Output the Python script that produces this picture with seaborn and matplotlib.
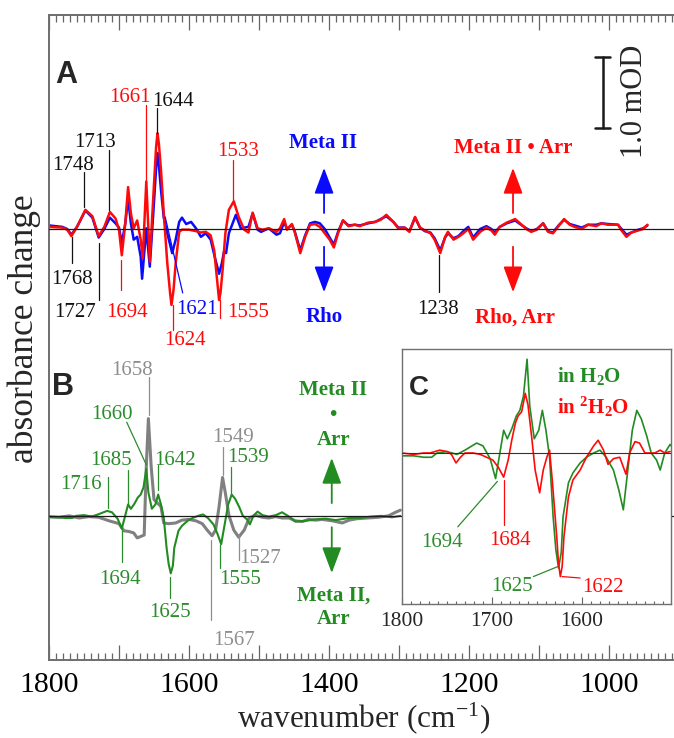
import numpy as np
import seaborn as sns
import matplotlib.pyplot as plt
from matplotlib.ticker import MultipleLocator, FuncFormatter

# ---- panel A: Meta II (blue) and Meta II-arrestin (red) difference spectra, mOD
wn_a_blue = [1800, 1781, 1774, 1768, 1760, 1748, 1738, 1729, 1721, 1713,
             1705, 1700, 1696, 1691, 1687, 1683, 1679, 1674, 1669, 1667,
             1661, 1656, 1651, 1647, 1645, 1643, 1640, 1636, 1631, 1624, 1619, 1614,
             1610, 1604, 1597, 1590, 1583, 1576, 1569, 1562, 1557, 1553,
             1550, 1547, 1543, 1533, 1526, 1521, 1515, 1509, 1502, 1497,
             1486,
             1475, 1470, 1464, 1460, 1453, 1449, 1441, 1434, 1427, 1420,
             1413, 1406, 1399, 1393, 1387, 1380, 1372, 1363, 1356, 1344,
             1334, 1326, 1318, 1308, 1301, 1292, 1285, 1277, 1270, 1263,
             1255, 1249, 1241, 1234, 1230, 1222, 1215, 1208, 1201, 1194,
             1184, 1175, 1168, 1163, 1156, 1146, 1134, 1127, 1118, 1111,
             1103, 1094, 1087, 1080, 1072, 1064, 1056, 1049, 1039, 1030,
             1018, 1011, 1001, 987, 982, 975, 968, 958, 951, 945]
od_a_blue = [0.05, 0.03, 0.00, -0.08, 0.03, 0.26, 0.16, -0.12, 0.00, 0.16,
             0.08, 0.02, -0.20, 0.08, 0.43, 0.08, -0.15, -0.11, -0.39, -0.70,
             0.01, -0.53, 0.22, 0.85, 1.07, 0.90, 0.55, 0.16, -0.06, -0.34, -0.15, 0.10,
             0.16, 0.07, 0.10, 0.01, -0.11, -0.06, -0.15, -0.44, -0.63, -0.48,
             -0.32, -0.34, -0.06, 0.20, 0.01, 0.02, 0.03, 0.22, -0.01, -0.04,
             0.01,
             -0.08, -0.06, 0.10, 0.00, 0.06, -0.03, -0.30, -0.09, 0.08, 0.10,
             0.08, 0.00, -0.12, -0.22, -0.04, 0.12, 0.05, 0.06, 0.05, 0.08,
             0.10, 0.14, 0.18, 0.10, 0.02, 0.02, -0.03, 0.16, 0.02, -0.03,
             -0.05, -0.13, -0.30, -0.12, -0.06, -0.13, -0.10, -0.03, 0.03, -0.12,
             0.00, 0.04, 0.00, -0.05, 0.03, 0.08, 0.12, 0.07, 0.01, -0.03,
             0.00, 0.08, -0.03, -0.05, 0.05, 0.13, 0.07, 0.05, 0.02, 0.06,
             0.06, 0.08, 0.07, 0.06, 0.00, -0.08, -0.05, -0.01, 0.01, 0.05]

wn_a_red = [1800, 1781, 1774, 1768, 1760, 1748, 1738, 1729, 1721, 1713,
            1705, 1700, 1696, 1691, 1687, 1683, 1679, 1674, 1669, 1666,
            1661, 1656, 1651, 1647, 1645, 1643, 1640, 1636, 1631, 1627, 1625, 1622,
            1619, 1614, 1610, 1600, 1590, 1583, 1576, 1569, 1564, 1559, 1557, 1555,
            1552, 1548, 1543, 1536, 1529, 1521, 1515, 1509, 1502, 1495, 1486,
            1475, 1470, 1464, 1460, 1453, 1449, 1441, 1434, 1427, 1420,
            1413, 1406, 1399, 1393, 1387, 1380, 1372, 1363, 1356, 1344,
            1334, 1326, 1318, 1308, 1301, 1292, 1285, 1277, 1270, 1263,
            1255, 1249, 1241, 1234, 1230, 1222, 1215, 1208, 1201, 1194,
            1184, 1175, 1168, 1163, 1156, 1146, 1134, 1127, 1118, 1111,
            1103, 1094, 1087, 1080, 1072, 1064, 1056, 1049, 1039, 1030,
            1018, 1011, 1001, 987, 982, 975, 968, 958, 951, 945]
od_a_red = [0.03, 0.02, -0.01, -0.10, 0.03, 0.27, 0.18, -0.10, 0.03, 0.24,
            0.15, -0.01, -0.37, 0.08, 0.59, 0.22, 0.01, 0.12, -0.15, -0.41,
            0.67, -0.46, 0.45, 1.15, 1.35, 1.20, 0.83, 0.22, -0.48, -0.90, -1.07, -0.85,
            -0.48, -0.04, -0.01, -0.01, -0.03, -0.05, -0.04, -0.09, -0.30, -0.80, -1.00, -0.90,
            -0.58, -0.06, 0.27, 0.39, 0.17, -0.01, -0.05, 0.23, 0.01, -0.01, 0.01,
            -0.04, 0.01, 0.14, -0.01, 0.07, -0.04, -0.34, -0.11, 0.06, 0.07,
            0.03, -0.06, -0.15, -0.26, -0.06, 0.12, 0.04, 0.06, 0.04, 0.09,
            0.10, 0.13, 0.20, 0.10, 0.01, 0.02, -0.04, 0.17, 0.02, -0.02,
            -0.06, -0.15, -0.34, -0.11, -0.04, -0.15, -0.11, -0.06, 0.00, -0.15,
            -0.04, 0.02, -0.02, -0.08, 0.03, 0.09, 0.14, 0.08, 0.00, -0.04,
            -0.01, 0.08, -0.04, -0.06, 0.04, 0.14, 0.06, 0.03, 0.00, 0.06,
            0.04, 0.08, 0.06, 0.06, -0.02, -0.11, -0.05, -0.02, 0.00, 0.06]

# ---- panel B: gray and green (H2O) spectra
wn_b_gray = [1800, 1786, 1771, 1757, 1743, 1729, 1714, 1700, 1693, 1686,
             1679, 1674, 1669, 1664, 1661, 1658, 1654, 1650, 1645, 1640,
             1636, 1629, 1619, 1610, 1600, 1590, 1581, 1574, 1567, 1562,
             1557, 1552, 1548, 1543, 1536, 1529, 1521, 1514, 1505, 1495,
             1486, 1476, 1467, 1457, 1448, 1438, 1429, 1419, 1410, 1395,
             1381, 1371, 1360, 1345, 1330, 1315, 1305, 1298]
od_b_gray = [-0.01, -0.02, 0.00, -0.03, -0.01, -0.02, -0.07, -0.11, -0.21, -0.22,
             -0.24, -0.31, -0.29, -0.27, 0.69, 1.37, 0.69, 0.23, 0.18, 0.13,
             -0.10, -0.11, -0.10, -0.06, -0.05, -0.07, -0.11, -0.20, -0.28, -0.20,
             0.13, 0.54, 0.32, 0.01, -0.20, -0.30, -0.20, -0.03, 0.01, -0.02,
             -0.03, -0.01, -0.03, -0.03, -0.07, -0.08, -0.05, -0.06, -0.05, -0.07,
             -0.10, -0.06, -0.04, -0.03, -0.02, 0.00, 0.05, 0.08]

wn_green = [1800, 1787, 1776, 1767, 1761, 1750, 1739, 1730, 1717, 1710,
            1702, 1696, 1692, 1687, 1683, 1678, 1673, 1669, 1665, 1661,
            1658, 1653, 1648, 1644, 1640, 1636, 1632, 1629, 1626, 1623, 1621, 1615,
            1610, 1602, 1595, 1587, 1580, 1573, 1565, 1559, 1554, 1549,
            1544, 1539, 1534, 1528, 1523, 1517, 1513, 1508, 1502, 1495,
            1486, 1476, 1467, 1457, 1448, 1434, 1419, 1405, 1390, 1371,
            1355, 1340, 1325, 1310, 1298]
od_green = [-0.02, -0.02, -0.03, -0.03, 0.00, 0.01, -0.01, 0.02, 0.07, 0.05,
            -0.04, -0.18, -0.03, 0.16, 0.10, 0.17, 0.26, 0.30, 0.40, 0.66,
            0.33, 0.10, 0.16, 0.30, 0.16, -0.03, -0.45, -0.68, -0.81, -0.70, -0.45, -0.21,
            -0.14, -0.07, -0.03, 0.00, 0.02, -0.03, -0.12, -0.26, -0.40, -0.12,
            0.16, 0.30, 0.24, 0.12, 0.00, -0.05, -0.12, 0.00, 0.06, 0.01,
            -0.01, 0.01, 0.05, -0.01, -0.08, -0.07, -0.05, -0.04, -0.06, -0.03,
            -0.03, -0.01, 0.00, -0.02, 0.00]

# ---- panel C: same sample in 2H2O
wn_c_red = [1800, 1787, 1776, 1769, 1758, 1750, 1745, 1740, 1735, 1730,
            1721, 1713, 1706, 1699, 1693, 1687, 1682, 1678, 1674, 1671,
            1667, 1663, 1660, 1656, 1652, 1647, 1643, 1639, 1636, 1633,
            1628, 1626, 1624, 1622, 1620, 1615, 1610, 1602, 1595, 1587, 1582, 1576,
            1571, 1565, 1558, 1551, 1547, 1541, 1536, 1530, 1524, 1519,
            1513, 1508, 1502]
od_c_red = [0.00, -0.01, 0.00, 0.00, 0.02, 0.01, -0.01, -0.07, -0.03, 0.00,
            0.00, -0.01, -0.03, -0.05, -0.10, -0.17, -0.05, 0.09, 0.21, 0.26,
            0.29, 0.42, 0.34, 0.12, -0.12, -0.28, -0.12, -0.03, 0.02, -0.19,
            -0.59, -0.78, -0.87, -0.80, -0.59, -0.31, -0.19, -0.12, -0.03, 0.05, 0.09, 0.02,
            -0.08, -0.04, -0.03, -0.15, 0.00, 0.08, 0.07, 0.00, 0.00, 0.00,
            0.02, 0.00, 0.01]

RED, BLUE, GREEN, GRAY = '#ff0a0a', '#0a0aff', '#228b22', '#808080'
GREEN_T, GRAY_T, BLACK = '#2a8c2a', '#8e8e8e', '#111111'
B_OFF = -4.04   # vertical offset of panel B traces

sns.set_theme(style='white')
plt.rcParams['font.family'] = ['Liberation Serif', 'DejaVu Serif']
plt.rcParams['mathtext.fontset'] = 'custom'
plt.rcParams['mathtext.rm'] = 'Liberation Serif'
plt.rcParams['mathtext.it'] = 'Liberation Serif:italic'
plt.rcParams['mathtext.bf'] = 'Liberation Serif:bold'

fig = plt.figure(figsize=(6.74, 7.38), dpi=100)
ax = fig.add_axes([49 / 674, 1 - 660 / 738, 625 / 674, 645 / 738])

sns.lineplot(x=wn_a_blue, y=od_a_blue, ax=ax, color=BLUE, lw=1.8, sort=False, estimator=None)
sns.lineplot(x=wn_a_red, y=od_a_red, ax=ax, color=RED, lw=1.8, sort=False, estimator=None)
sns.lineplot(x=wn_b_gray, y=np.array(od_b_gray) + B_OFF, ax=ax, color=GRAY, lw=2.2,
             sort=False, estimator=None)
sns.lineplot(x=wn_green, y=np.array(od_green) + B_OFF, ax=ax, color=GREEN, lw=1.5,
             sort=False, estimator=None)
ax.axhline(0, color='k', lw=0.9, zorder=3)
ax.axhline(B_OFF, color='k', lw=0.9, zorder=3)

ax.set_xlim(1800, 907)
ax.set_ylim(-6.07, 3.014)
ax.set_yticks([])
ax.xaxis.set_major_locator(MultipleLocator(100))
ax.xaxis.set_minor_locator(MultipleLocator(10))
ax.xaxis.set_major_formatter(FuncFormatter(lambda v, p: f'{v:.0f}' if round(v) % 200 == 0 else ''))
ax.tick_params(axis='x', which='both', direction='in', top=True, bottom=True,
               color='#666666', width=0.9, labelcolor='black')
ax.tick_params(axis='x', which='major', length=11, labelsize=21.5, pad=8.5)
ax.tick_params(axis='x', which='minor', length=5)
for s in ['left', 'bottom', 'top']:
    ax.spines[s].set_color('#6e6e6e')
    ax.spines[s].set_linewidth(1.4)
ax.spines['right'].set_visible(False)


def peak(axis, s, color, tx, ty, p0, p1, size=15):
    axis.plot([p0[0], p1[0]], [p0[1], p1[1]], color=color, lw=0.9)
    axis.text(tx, ty, s, color=color, fontsize=size, ha='center', va='center_baseline')


def arrow(axis, x, y0, y1, color):
    axis.annotate('', xy=(x, y1), xytext=(x, y0),
                  arrowprops=dict(arrowstyle='-|>,head_length=1.6,head_width=0.6',
                                  color=color, lw=1.3, shrinkA=0, shrinkB=0,
                                  mutation_scale=10))


# panel A labels
peak(ax, '1748', BLACK, 1766, 0.93, (1750, 0.80), (1750, 0.31))
peak(ax, '1713', BLACK, 1734, 1.25, (1714, 1.11), (1714, 0.27))
peak(ax, '1768', BLACK, 1767, -0.68, (1767, -0.11), (1767, -0.48))
peak(ax, '1727', BLACK, 1763, -1.14, (1729, -0.20), (1729, -1.00))
peak(ax, '1694', RED, 1689, -1.14, (1697, -0.44), (1697, -0.86))
peak(ax, '1661', RED, 1684, 1.89, (1661, 1.75), (1661, 0.69))
peak(ax, '1644', BLACK, 1623, 1.83, (1646, 1.70), (1646, 1.35))
peak(ax, '1624', RED, 1606, -1.54, (1623, -1.07), (1623, -1.42))
peak(ax, '1621', BLUE, 1589, -1.10, (1634, 0.17), (1609, -0.90))
peak(ax, '1555', RED, 1516, -1.14, (1556, -1.00), (1556, -1.25))
peak(ax, '1533', RED, 1530, 1.13, (1537, 0.97), (1537, 0.41))
peak(ax, '1238', BLACK, 1244, -1.10, (1243, -0.37), (1243, -0.89))

# panel B labels
peak(ax, '1658', GRAY_T, 1681, -1.96, (1657, -2.08), (1657, -2.62))
peak(ax, '1660', GREEN_T, 1710, -2.58, (1689, -2.72), (1661, -3.32))
peak(ax, '1685', GREEN_T, 1711, -3.23, (1687, -3.39), (1687, -3.89))
peak(ax, '1716', GREEN_T, 1754, -3.56, (1716, -3.49), (1716, -3.93))
peak(ax, '1642', GREEN_T, 1620, -3.23, (1644, -3.32), (1644, -3.68))
peak(ax, '1694', GREEN_T, 1699, -4.90, (1696, -4.24), (1696, -4.69))
peak(ax, '1625', GREEN_T, 1627, -5.37, (1627, -4.90), (1627, -5.20))
peak(ax, '1567', GRAY_T, 1536, -5.76, (1569, -4.38), (1569, -5.51))
peak(ax, '1549', GRAY_T, 1537, -2.90, (1551, -3.07), (1551, -3.46))
peak(ax, '1539', GREEN_T, 1516, -3.18, (1540, -3.35), (1540, -3.75))
peak(ax, '1555', GREEN_T, 1527, -4.90, (1556, -4.45), (1556, -4.77))
peak(ax, '1527', GRAY_T, 1499, -4.61, (1529, -4.31), (1529, -4.66))

# state labels and arrows
bold = dict(fontsize=15, weight='bold', ha='center', va='center_baseline')
ax.text(1409, 1.24, 'Meta II', color=BLUE, **bold)
ax.text(1407, -1.21, 'Rho', color=BLUE, **bold)
arrow(ax, 1407, 0.225, 0.86, BLUE)
arrow(ax, 1407, -0.25, -0.89, BLUE)
ax.text(1137, 1.18, 'Meta II \u2022 Arr', color=RED, **bold)
ax.text(1134, -1.21, 'Rho, Arr', color=RED, **bold)
arrow(ax, 1137, 0.225, 0.86, RED)
arrow(ax, 1137, -0.25, -0.89, RED)
ax.text(1394, -2.23, 'Meta II', color=GREEN, **bold)
ax.text(1394, -2.58, '\u2022', color=GREEN, **bold)
ax.text(1394, -2.93, 'Arr', color=GREEN, **bold)
ax.text(1394, -5.13, 'Meta II,', color=GREEN, **bold)
ax.text(1394, -5.46, 'Arr', color=GREEN, **bold)
arrow(ax, 1396, -3.86, -3.225, GREEN)
arrow(ax, 1396, -4.20, -4.845, GREEN)

# scale bar
ax.plot([1009, 1009], [1.42, 2.42], color='k', lw=1.8)
ax.plot([1020, 998], [1.42, 1.42], color='k', lw=1.8)
ax.plot([1020, 998], [2.42, 2.42], color='k', lw=1.8)
ax.text(963, 1.80, '1.0 mOD', rotation=90, ha='center', va='center', fontsize=22)

ax.text(1776, 2.056, 'A', family='Liberation Sans', weight='bold', fontsize=22,
        ha='center', va='baseline')
ax.text(1780, -2.34, 'B', family='Liberation Sans', weight='bold', fontsize=22,
        ha='center', va='baseline')

# ---- inset C
axc = fig.add_axes([402 / 674, 1 - 604 / 738, 269 / 674, 255 / 738])
axc.set_facecolor('white')
sns.lineplot(x=wn_green, y=od_green, ax=axc, color=GREEN, lw=1.2, sort=False, estimator=None)
sns.lineplot(x=wn_c_red, y=od_c_red, ax=axc, color=RED, lw=1.2, sort=False, estimator=None)
axc.axhline(0, color='#333333', lw=0.8, zorder=3)
axc.set_xlim(1800, 1501)
axc.set_ylim(-1.063, 0.732)
axc.set_yticks([])
axc.xaxis.set_major_locator(MultipleLocator(100))
axc.xaxis.set_minor_locator(MultipleLocator(10))
axc.tick_params(axis='x', which='both', direction='in', bottom=True, top=False,
                color='#666666', width=0.8)
axc.tick_params(axis='x', which='major', length=5, labelsize=15.5, pad=5.5)
axc.tick_params(axis='x', which='minor', length=2.5)
for s in axc.spines.values():
    s.set_color('#707070')
    s.set_linewidth(1.0)

peak(axc, '1694', GREEN_T, 1756, -0.61, (1694, -0.20), (1738, -0.52))
peak(axc, '1684', RED, 1680, -0.60, (1687, -0.19), (1687, -0.51))
peak(axc, '1625', GREEN_T, 1678, -0.92, (1627, -0.80), (1654, -0.87))
peak(axc, '1622', RED, 1577, -0.93, (1622, -0.87), (1602, -0.88))
axc.text(1628, 0.56, 'in H$_\\mathbf{2}$O', color=GREEN, fontsize=15, weight='bold',
         ha='left', va='center_baseline')
axc.text(1628, 0.34, 'in $^\\mathbf{2}$H$_\\mathbf{2}$O', color=RED, fontsize=15,
         weight='bold', ha='left', va='center_baseline')
axc.text(1781, 0.41, 'C', family='Liberation Sans', weight='bold', fontsize=20,
         ha='center', va='baseline')

fig.text(237 / 674, 1 - 727 / 738, 'wavenumber (cm$^{-1}$)', fontsize=22.5,
         ha='left', va='baseline')
fig.text(33 / 674, 1 - 463 / 738, 'absorbance change', rotation=90,
         rotation_mode='anchor', ha='left', va='baseline', fontsize=25.5)

fig.savefig('out.png', dpi=100)
